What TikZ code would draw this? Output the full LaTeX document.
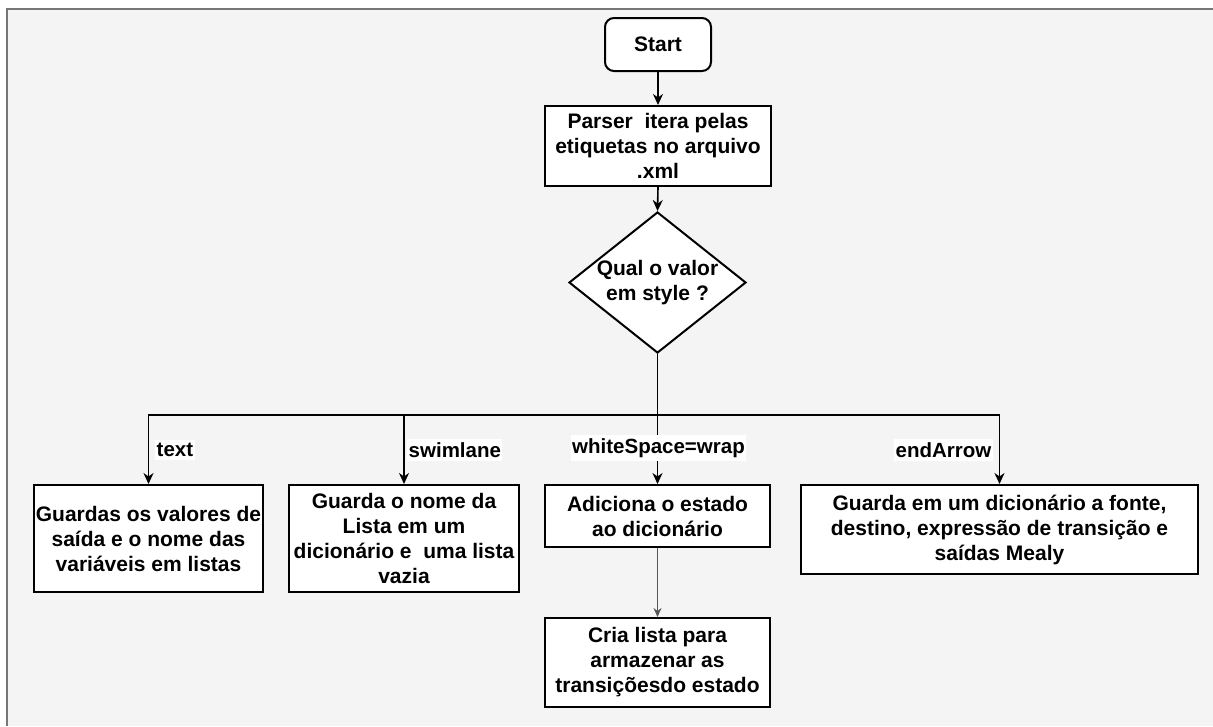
\documentclass[tikz,border=0pt]{standalone}
\usepackage{fontspec}
\setmainfont{Liberation Sans}
\usetikzlibrary{shapes.geometric,arrows.meta}
\definecolor{pagebg}{HTML}{F4F4F4}
\definecolor{framec}{HTML}{777777}
\definecolor{thinc}{HTML}{555555}
\begin{document}
\begin{tikzpicture}[x=1pt,y=-1pt,
  txt/.style={font=\fontsize{21}{25}\selectfont\bfseries},
  box/.style={txt, draw=black, line width=2pt, fill=white, inner sep=0pt, align=center},
  startbox/.style={box, rounded corners=9pt, minimum width=106pt, minimum height=53pt},
  decision/.style={diamond, draw=black, line width=2pt, fill=white, inner sep=0pt,
    minimum width=177pt, minimum height=141pt},
  conn/.style={line width=1.6pt, -{Stealth[length=11pt,width=10pt,inset=3.5pt]}},
  thinconn/.style={thinc, line width=1pt, -{Stealth[length=9pt,width=8pt,inset=3pt]}},
  lbl/.style={font=\fontsize{20.5}{24}\selectfont\bfseries, fill=white, inner xsep=1.5pt, inner ysep=3pt}
]
\useasboundingbox (0,0) rectangle (1213,726);
% page background and frame
\fill[white] (0,0) rectangle (1213,726);
\fill[pagebg] (7,9) rectangle (1213,726);
\draw[framec, line width=1.2pt] (1213,9) -- (7,9) -- (7,726);

% main flow
\node[startbox] (start) at (658,44.5) {Start};
\node[box, minimum width=226pt, minimum height=80pt] (parser) at (658,146)
  {Parser\ \ itera pelas\\etiquetas no arquivo\\.xml};
\node[decision] (q) at (657.5,282.5) {};
\node[txt, align=center, inner sep=0pt] (qtext) at (q.center) {Qual o valor\\em style ?};

% branch targets
\node[box, minimum width=229pt, minimum height=107pt] (bt) at (148.5,538.5)
  {Guardas os valores de\\saída e o nome das\\variáveis em listas};
\node[box, minimum width=230pt, minimum height=107pt] (bs) at (404,538.5)
  {Guarda o nome da\\Lista em um\\dicionário e\ \ uma lista\\vazia};
\node[box, minimum width=225pt, minimum height=62pt] (bw) at (657.5,516)
  {Adiciona o estado\\ao dicionário};
\node[box, minimum width=225pt, minimum height=89pt] (bl) at (657.5,662.5)
  {Cria lista para\\armazenar as\\transiçõesdo estado};
\node[box, minimum width=397pt, minimum height=89pt] (be) at (999.5,529.5)
  {Guarda em um dicionário a fonte,\\destino, expressão de transição e\\saídas Mealy};

\coordinate (split) at (657.5,415);

% connectors
\draw[conn] (start.south) -- (parser.north);
\draw[conn] (parser.south) -- (q.north);
\draw[line width=1.6pt] (q.south) -- (split);
\draw[conn] (split) -| (bt.north);
\draw[conn] (split) -| (bs.north);
\draw[conn] (split) -- (bw.north);
\draw[conn] (split) -| (be.north);
\draw[thinconn] (bw.south) -- (bl.north);

% branch labels
\node[lbl, anchor=west] (ltext) at (155,450) {text};
\node[lbl, anchor=west] (lswim) at (407,450) {swimlane};
\node[lbl] (lwhite) at (658.5,448) {whiteSpace=wrap};
\node[lbl, anchor=east] (lend) at (993,450) {endArrow};
\end{tikzpicture}
\end{document}
